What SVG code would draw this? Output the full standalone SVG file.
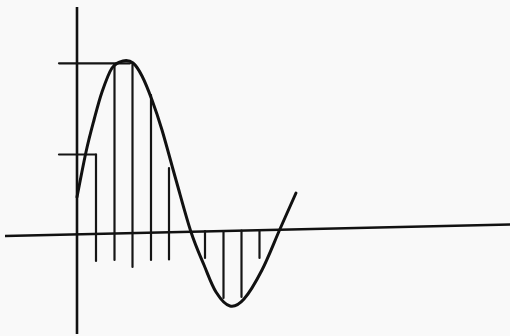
<svg xmlns="http://www.w3.org/2000/svg" width="510" height="336" viewBox="0 0 510 336">
  <style>
    .ax { stroke: #111; stroke-width: 2.6; fill: none; stroke-linecap: butt; }
    .ln { stroke: #151515; stroke-width: 2.2; fill: none; stroke-linecap: round; }
    .cv { stroke: #111; stroke-width: 3; fill: none; stroke-linecap: round; stroke-linejoin: round; }
  </style>
  <rect x="0" y="0" width="510" height="336" fill="#f9f9f9"/>
  <g id="axes">
    <line class="ax" x1="77" y1="7" x2="77" y2="334"/>
    <line class="ax" x1="5" y1="236" x2="510" y2="224.5"/>
  </g>
  <g id="markers">
    <polyline class="ln" points="59,63.3 130,63.3"/>
    <polyline class="ln" points="59,154.5 96,154.5"/>
  </g>
  <g id="samples">
    <line class="ln" x1="96" y1="154.5" x2="96" y2="261"/>
    <line class="ln" x1="114.5" y1="64" x2="114.5" y2="260"/>
    <line class="ln" x1="132.5" y1="63" x2="132.5" y2="267"/>
    <line class="ln" x1="151" y1="95" x2="151" y2="260"/>
    <line class="ln" x1="169" y1="168" x2="169" y2="259.5"/>
    <line class="ln" x1="205" y1="231" x2="205" y2="258"/>
    <line class="ln" x1="223.5" y1="231" x2="223.5" y2="298"/>
    <line class="ln" x1="241.5" y1="230.5" x2="241.5" y2="297"/>
    <line class="ln" x1="259.5" y1="230" x2="259.5" y2="258"/>
  </g>
  <g id="curve">
    <path class="cv" d="M77,197 C78.5,189.5 83.17,164.83 86,152 C88.83,139.17 91.33,130 94,120 C96.67,110 99,100.67 102,92 C105,83.33 108.5,73.17 112,68 C115.5,62.83 119.5,61.83 123,61 C126.5,60.17 129.83,60.5 133,63 C136.17,65.5 138.83,69.83 142,76 C145.17,82.17 148.67,91 152,100 C155.33,109 158,116.67 162,130 C166,143.33 171.17,163 176,180 C180.83,197 186.33,217.83 191,232 C195.67,246.17 199.83,255 204,265 C208.17,275 211.67,285.17 216,292 C220.33,298.83 225.33,304.83 230,306 C234.67,307.17 238.67,305 244,299 C249.33,293 256,281.67 262,270 C268,258.33 274.33,241.83 280,229 C285.67,216.17 293.33,199 296,193"/>
  </g>
</svg>
